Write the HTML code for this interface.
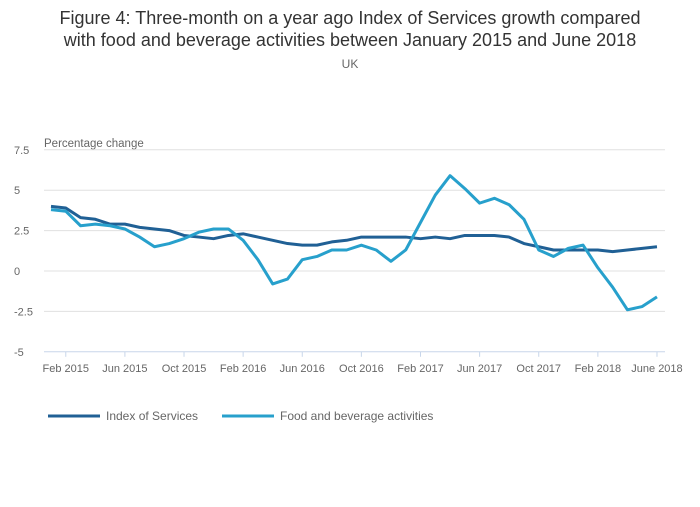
<!DOCTYPE html>
<html><head><meta charset="utf-8"><style>
body{margin:0;background:#fff;font-family:"Liberation Sans",sans-serif;}
svg text{font-family:"Liberation Sans",sans-serif;}
</style></head><body>
<svg width="700" height="502" id="c">
<text x="350" y="24" text-anchor="middle" font-size="18" fill="#333">Figure 4: Three-month on a year ago Index of Services growth compared</text>
<text x="350" y="46" text-anchor="middle" font-size="18" fill="#333">with food and beverage activities between January 2015 and June 2018</text>
<text x="350" y="68" text-anchor="middle" font-size="12" fill="#666">UK</text>
<text x="44" y="147" font-size="11.5" fill="#666">Percentage change</text>
<g id="grid"></g><g id="xax"></g><g id="series"></g>
<g>
<line x1="48" y1="416" x2="100" y2="416" stroke="#206095" stroke-width="3"/>
<text x="106" y="420" font-size="12" fill="#666">Index of Services</text>
<line x1="222" y1="416" x2="274" y2="416" stroke="#27a0cc" stroke-width="3"/>
<text x="280" y="420" font-size="12" fill="#666">Food and beverage activities</text>
</g>
</svg>
<script>
const yTicks=[7.5,5,2.5,0,-2.5,-5];
const yTickLabels=["7.5","5","2.5","0","-2.5","-5"];
const xTickIdx=[1,5,9,13,17,21,25,29,33,37,41];
const xTickLabels=["Feb 2015","Jun 2015","Oct 2015","Feb 2016","Jun 2016","Oct 2016","Feb 2017","Jun 2017","Oct 2017","Feb 2018","June 2018"];
const indexOfServices=[4.0,3.9,3.3,3.2,2.9,2.9,2.7,2.6,2.5,2.2,2.1,2.0,2.2,2.3,2.1,1.9,1.7,1.6,1.6,1.8,1.9,2.1,2.1,2.1,2.1,2.0,2.1,2.0,2.2,2.2,2.2,2.1,1.7,1.5,1.3,1.3,1.3,1.3,1.2,1.3,1.4,1.5];
const foodBeverage=[3.8,3.7,2.8,2.9,2.8,2.6,2.1,1.5,1.7,2.0,2.4,2.6,2.6,1.9,0.7,-0.8,-0.5,0.7,0.9,1.3,1.3,1.6,1.3,0.6,1.3,3.0,4.7,5.9,5.1,4.2,4.5,4.1,3.2,1.3,0.9,1.4,1.6,0.2,-1.0,-2.4,-2.2,-1.6];
const NS="http://www.w3.org/2000/svg";
const x=i=>51+i*14.78;
const y=v=>271-v*16.16;
function mk(tag,attrs,parent){const e=document.createElementNS(NS,tag);for(const k in attrs)e.setAttribute(k,attrs[k]);parent.appendChild(e);return e;}
const grid=document.getElementById('grid');
yTicks.forEach((t,i)=>{
  if(t!==-5){const l=mk('line',{x1:44,x2:665,y1:y(t),y2:y(t),stroke:'#e0e0e0','stroke-width':1},grid);
  
  }
  const tx=mk('text',{x:14,y:y(t)+4,'font-size':11,fill:'#666'},grid);tx.textContent=yTickLabels[i];
  
  
});
const xax=document.getElementById('xax');
const ax=mk('line',{x1:44,x2:665,y1:y(-5),y2:y(-5),stroke:'#c8d6ea','stroke-width':1},xax);


xTickIdx.forEach((ix,i)=>{
  const t=mk('line',{x1:x(ix),x2:x(ix),y1:y(-5),y2:y(-5)+5,stroke:'#c8d6ea'},xax);
  
  
  const tx=mk('text',{x:x(ix),y:372,'font-size':11,fill:'#666','text-anchor':'middle'},xax);tx.textContent=xTickLabels[i];
  
  
});
const s=document.getElementById('series');
function line(data,color,name){
  const p=mk('polyline',{points:data.map((v,i)=>x(i)+','+y(v)).join(' '),fill:'none',stroke:color,'stroke-width':3,'stroke-linejoin':'round'},s);
  
  
}
line(indexOfServices,'#206095','index-of-services-line');
line(foodBeverage,'#27a0cc','food-beverage-line');
</script>
</body></html>
